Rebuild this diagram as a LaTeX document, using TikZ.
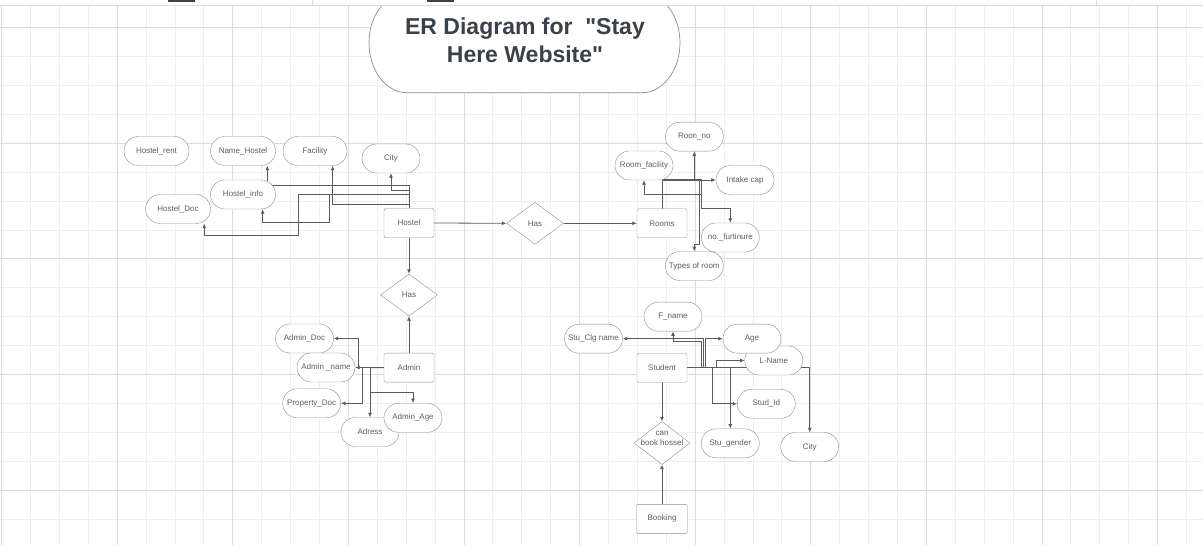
\documentclass[tikz,border=0pt]{standalone}
\usepackage{fontspec}
\setmainfont{Liberation Sans}
\newfontfamily\titlefont{Liberation Sans}
\usetikzlibrary{shapes.geometric,arrows.meta}
\pgfdeclarelayer{grid}
\pgfdeclarelayer{back}
\pgfsetlayers{grid,back,main}
\definecolor{gridminor}{HTML}{EEEEEE}
\definecolor{gridmajor}{HTML}{DCDCDC}
\definecolor{edgegray}{HTML}{8E8E8E}
\definecolor{linegray}{HTML}{5C5C5C}
\definecolor{textgray}{HTML}{5A5F66}
\definecolor{titlegray}{HTML}{3B4149}

\begin{document}
\begin{tikzpicture}[x=1pt, y=-1pt, line join=round,
    attr/.style={draw=edgegray, fill=white, rounded corners=14.5pt, minimum width=58pt, minimum height=29pt, inner sep=1pt, text=textgray, font=\fontsize{8}{9.5}\selectfont},
    entity/.style={draw=edgegray, fill=white, rounded corners=1.5pt, minimum width=50pt, minimum height=29pt, inner sep=1pt, text=textgray, font=\fontsize{8}{9.5}\selectfont},
    rel/.style={diamond, draw=edgegray, fill=white, minimum width=57pt, minimum height=42pt, inner sep=0pt, text=textgray, font=\fontsize{8}{9.5}\selectfont},
    conn/.style={draw=linegray, line width=0.8pt, -{Latex[length=4.5pt,width=4pt]}}]

    \useasboundingbox (0,0) rectangle (1203,545);

    % grille de fond
    \begin{pgfonlayer}{grid}
        \fill[white] (0,0) rectangle (1203,545);
        \foreach \i in {0,...,41} {
            \draw[gridminor, line width=0.8pt] ({1.5+28.9*\i},5.7) -- ({1.5+28.9*\i},545);
        }
        \foreach \j in {0,...,17} {
            \draw[gridminor, line width=0.8pt] (0,{27.7+28.9*\j}) -- (1203,{27.7+28.9*\j});
        }
        \foreach \k in {0,...,10} {
            \draw[gridmajor, line width=0.8pt] ({1.5+115.6*\k},5.7) -- ({1.5+115.6*\k},545);
        }
        \foreach \k in {0,...,4} {
            \draw[gridmajor, line width=0.8pt] (0,{27.7+115.6*\k}) -- (1203,{27.7+115.6*\k});
        }
    \end{pgfonlayer}

    % titre
    \draw[draw=edgegray, fill=white, line width=0.7pt] (407,92.7) arc[start angle=90, end angle=270, x radius=38, y radius=49.85] -- (642,-7) arc[start angle=270, end angle=450, x radius=38, y radius=49.85] -- cycle;
    \node[anchor=base, text=titlegray, font=\titlefont\fontsize{23}{27.7}\selectfont\bfseries] (title1) at (525,35) {ER Diagram for \ "Stay};
    \node[anchor=base, text=titlegray, font=\titlefont\fontsize{23}{27.7}\selectfont\bfseries] (title2) at (525,62.7) {Here Website"};

    % bande du haut
    \fill[white] (0,0) rectangle (1203,5.7);
    \draw[gridmajor, line width=0.8pt] (0,5.7) -- (1203,5.7);
    \draw[gridmajor, line width=0.8pt] (312,0) -- (312,5.7);
    \draw[gridmajor, line width=0.8pt] (1096,0) -- (1096,5.7);
    \fill[black!75] (168,0) rectangle (195,1.6);
    \fill[black!75] (427,0) rectangle (454,1.6);

    % Hostel
    \node[attr, minimum width=65pt] (hostelrent) at (156.5,151) {Hostel\_rent};
    \node[attr, minimum width=65pt] (namehostel) at (243,151) {Name\_Hostel};
    \node[attr, minimum width=64pt] (facility) at (315,151) {Facility};
    \node[attr] (city) at (391,158.5) {City};
    \node[attr, minimum width=65pt] (hostelinfo) at (243,194.5) {Hostel\_info};
    \node[attr, minimum width=65pt] (hosteldoc) at (178,209) {Hostel\_Doc};
    \node[entity] (hostel) at (409,223) {Hostel};
    \node[rel] (hasrooms) at (535,223.3) {Has};

    % Rooms
    \node[entity] (rooms) at (662,223.3) {Rooms};
    \node[attr] (roomno) at (694.3,136.7) {Roon\_no};
    \node[attr] (roomfacility) at (644,165.5) {Room\_facility};
    \node[attr] (intakecap) at (745,180) {Intake cap};
    \node[attr] (nofurniture) at (730.3,237.5) {no.\_furtinure};
    \node[attr] (roomtype) at (694.3,266) {Types of room};

    % Admin
    \node[rel] (hasadmin) at (409,295) {Has};
    \node[entity] (admin) at (409,367.7) {Admin};
    \node[attr] (admindoc) at (304.5,338.5) {Admin\_Doc};
    \node[attr] (adminname) at (326,367.5) {Admin \_name};
    \node[attr] (propertydoc) at (311.7,403.3) {Property\_Doc};
    \node[attr] (adress) at (370,432) {Adress};
    \node[attr] (adminage) at (413,417.8) {Admin\_Age};

    % Student
    \node[entity] (student) at (662,367.8) {Student};
    \node[attr] (fname) at (673,316.7) {F\_name};
    \node[attr] (stuclg) at (593.5,338.7) {Stu\_Clg name};
    \node[attr] (lname) at (773.8,360.5) {L-Name};
    \node[attr] (age) at (752,338.7) {Age};
    \node[attr] (studid) at (766.3,403.8) {Stud\_Id};
    \node[attr] (stugender) at (730.3,443.3) {Stu\_gender};
    \node[attr] (stucity) at (809.7,447) {City};
    \node[rel, minimum width=56pt, minimum height=43pt] (canbook) at (662,443) {};
    \node[text=textgray, font=\fontsize{8}{9.6}\selectfont, align=center, inner sep=0pt] (canbooktxt) at (662,438.5) {can\\book hossel};
    \node[entity, minimum width=51pt] (booking) at (662,518.8) {Booking};

    % liens (sous les noeuds)
    \begin{pgfonlayer}{back}
        \draw[conn] (hostel.north) -- ++(0,-17.8) -| (city.south);
        \draw[conn] (hostel.north) -- ++(0,-22.5) -| ([xshift=24.3pt]namehostel.south);
        \draw[conn] (hostel.north) -- ++(0,-3.5) -| ([xshift=17.7pt]facility.south);
        \draw[conn] (hostel.north) -- ++(0,-14.2) -- ++(-79.3,0) -- ++(0,28.4) -| ([xshift=19.7pt]hostelinfo.south);
        \draw[conn] (hostel.north) -- ++(0,-14.2) -- ++(-111,0) -- ++(0,41.7) -| ([xshift=26.3pt]hosteldoc.south);
        \draw[conn] (hostel.east) -- (hasrooms.west);
        \draw[conn] (hasrooms.east) -- (rooms.west);
        \draw[conn] (hostel.south) -- (hasadmin.north);
        \draw[conn] (admin.north) -- (hasadmin.south);

        \draw[conn] (rooms.north) -- ++(0,-28.8) -| (roomno.south);
        \draw[conn] (rooms.north) |- (intakecap.west);
        \draw[conn] (rooms.north) -- ++(0,-28.8) -- ++(39.7,0) -- ++(0,14.3) -| (roomfacility.south);
        \draw[conn] (rooms.north) -- ++(0,-28.8) -- ++(39.7,0) -- ++(0,28.3) -| (nofurniture.north);
        \draw[conn] (rooms.north) -- ++(0,-28.8) -- ++(37,0) -- ++(0,65) -| (roomtype.north);

        \draw[conn] (admin.west) -- (adminname.east);
        \draw[conn] (admin.west) -- ++(-25.7,0) |- (admindoc.east);
        \draw[conn] (admin.west) -- ++(-21.7,0) |- (propertydoc.east);
        \draw[conn] (admin.west) -| (adress.north);
        \draw[conn] (admin.west) -- ++(-13,0) -- ++(0,25) -| (adminage.north);

        \draw[conn] (student.east) -| (stucity.north);
        \draw[conn] (student.east) -- ++(14.4,0) -- ++(0,-26.1) -| (fname.south);
        \draw[conn] (student.east) -- ++(16,0) |- (stuclg.east);
        \draw[conn] (student.east) -- ++(18.4,0) |- (age.west);
        \draw[conn] (student.east) -- ++(28.7,0) |- (lname.west);
        \draw[conn] (student.east) -- ++(25,0) |- (studid.west);
        \draw[conn] (student.east) -| (stugender.north);
        \draw[conn] (student.south) -- (canbook.north);
        \draw[conn] (booking.north) -- (canbook.south);
    \end{pgfonlayer}

\end{tikzpicture}
\end{document}
